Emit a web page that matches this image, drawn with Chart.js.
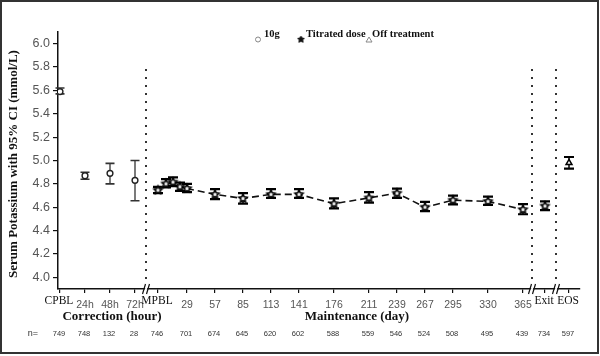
<!DOCTYPE html>
<html><head><meta charset="utf-8">
<script src="https://cdn.jsdelivr.net/npm/chart.js@4"></script>
<style>html,body{margin:0;padding:0;background:#fff}#wrap{width:600px;height:356px;position:relative}</style>
</head><body><div id="wrap"><canvas id="c" width="600" height="356"></canvas></div>
<script>
// ---- data ----
const corrLabels = ['CPBL','24h','48h','72h'];
const corrHours  = [0, 24, 48, 72];
const corrMean   = [5.59, 4.87, 4.89, 4.83];
const corrLow    = [5.57, 4.84, 4.80, 4.655];
const corrHigh   = [5.62, 4.90, 4.975, 5.00];
const corrN      = [749, 748, 132, 28];

const maintDays  = [0, 8, 15, 22, 29, 57, 85, 113, 141, 176, 211, 239, 267, 295, 330, 365];
const maintMean  = [4.746, 4.80, 4.815, 4.775, 4.76, 4.71, 4.675, 4.71, 4.71, 4.63, 4.68, 4.72, 4.60, 4.66, 4.65, 4.58];
const maintLow   = [4.72, 4.77, 4.78, 4.74, 4.73, 4.67, 4.63, 4.68, 4.68, 4.59, 4.64, 4.68, 4.567, 4.624, 4.62, 4.54];
const maintHigh  = [4.775, 4.84, 4.855, 4.81, 4.80, 4.755, 4.72, 4.755, 4.755, 4.675, 4.73, 4.76, 4.645, 4.70, 4.69, 4.626];
const maintTickDays   = [0, 29, 57, 85, 113, 141, 176, 211, 239, 267, 295, 330, 365];
const maintTickLabels = ['MPBL','29','57','85','113','141','176','211','239','267','295','330','365'];
const maintN          = [746, 701, 674, 645, 620, 602, 588, 559, 546, 524, 508, 495, 439];

const exitLabel = 'Exit'; const exitMean = 4.61; const exitLow = 4.575; const exitHigh = 4.65; const exitN = 734;
const eosLabel  = 'EOS';  const eosMean  = 4.98; const eosLow  = 4.93;  const eosHigh  = 5.03; const eosN  = 597;

const yTicks = [4.0, 4.2, 4.4, 4.6, 4.8, 5.0, 5.2, 5.4, 5.6, 5.8, 6.0];
const legendItems = ['10g', 'Titrated dose', 'Off treatment'];

// ---- layout mapping of segmented x axis (axis units ~ days) ----
const corrPos = h => -98 + h * 25 / 24;
const exitPos = 387, eosPos = 411;
const breaks = [-12, 374, 398];

function makeStar(r, fill, stroke, lw) {
  const s = Math.ceil(r * 2 + 4), c = document.createElement('canvas');
  c.width = s; c.height = s;
  const g = c.getContext('2d');
  g.beginPath();
  for (let i = 0; i < 10; i++) {
    const a = -Math.PI / 2 + i * Math.PI / 5, rr = i % 2 ? r * 0.5 : r;
    const x = s / 2 + rr * Math.cos(a), y = s / 2 + rr * Math.sin(a);
    i ? g.lineTo(x, y) : g.moveTo(x, y);
  }
  g.closePath(); g.fillStyle = fill; g.fill();
  g.lineWidth = lw; g.strokeStyle = stroke; g.stroke();
  return c;
}
const starImg = makeStar(4.2, '#fff', '#000', 1.6);
const exitStar = makeStar(4.2, '#fff', '#000', 1.6);

const corrData = corrHours.map((h, i) => ({x: corrPos(h), y: corrMean[i]}));
const maintData = maintDays.map((d, i) => ({x: d, y: maintMean[i]}));

const tickPos = [...corrHours.map(corrPos), ...maintTickDays, exitPos, eosPos];
const tickLab = [...corrLabels, ...maintTickLabels, exitLabel, eosLabel];
const tickN   = [...corrN, ...maintN, exitN, eosN];
const serifLabels = ['CPBL', 'MPBL', 'Exit', 'EOS'];

const errorBars = {
  id: 'errorBars',
  beforeDatasetsDraw(chart) {
    const g = chart.ctx, xs = chart.scales.x, ys = chart.scales.y;
    const bar = (xv, lo, hi, capW, capLw, lw, col) => {
      const x = xs.getPixelForValue(xv), y1 = ys.getPixelForValue(lo), y2 = ys.getPixelForValue(hi);
      g.strokeStyle = col; g.lineWidth = lw;
      g.beginPath(); g.moveTo(x, y1); g.lineTo(x, y2); g.stroke();
      g.lineWidth = capLw;
      g.beginPath(); g.moveTo(x - capW / 2, y1); g.lineTo(x + capW / 2, y1);
      g.moveTo(x - capW / 2, y2); g.lineTo(x + capW / 2, y2); g.stroke();
    };
    g.save();
    corrHours.forEach((h, i) => bar(corrPos(h), corrLow[i], corrHigh[i], 9, 1.6, 1.3, '#333'));
    maintDays.forEach((d, i) => bar(d, maintLow[i], maintHigh[i], 10, 2.2, 1.5, '#000'));
    bar(exitPos, exitLow, exitHigh, 10, 2.2, 1.5, '#000');
    bar(eosPos, eosLow, eosHigh, 10, 2.2, 1.5, '#000');
    g.restore();
  }
};

const decor = {
  id: 'decor',
  beforeDraw(chart) {
    const g = chart.ctx;
    g.save(); g.fillStyle = '#fff'; g.fillRect(0, 0, 600, 356);
    g.strokeStyle = '#333'; g.lineWidth = 2; g.strokeRect(1, 1, 597, 352);
    g.restore();
  },
  afterDraw(chart) {
    const g = chart.ctx, xs = chart.scales.x, ys = chart.scales.y, ca = chart.chartArea;
    g.save();
    // dotted vertical separators
    g.fillStyle = '#333';
    breaks.forEach(b => {
      const x = Math.round(xs.getPixelForValue(b));
      for (let y = 69; y < ca.bottom - 4; y += 8) g.fillRect(x - 1, y, 2, 2);
    });
    // axis breaks
    breaks.forEach((b, k) => {
      const x = xs.getPixelForValue(b), y = ca.bottom;
      g.fillStyle = '#fff';
      g.beginPath(); g.moveTo(x - 3, y + 5); g.lineTo(x + 1, y - 5); g.lineTo(x + 3, y - 5); g.lineTo(x - 1, y + 5); g.closePath(); g.fill();
      g.strokeStyle = '#111'; g.lineWidth = 1.2;
      g.beginPath();
      g.moveTo(x - 3.5, y + 5); g.lineTo(x - 0.5, y - 5);
      g.moveTo(x + 0.5, y + 5); g.lineTo(x + 3.5, y - 5);
      g.stroke();
    });
    // x tick labels
    g.textAlign = 'center'; g.textBaseline = 'middle';
    tickPos.forEach((p, i) => {
      const x = xs.getPixelForValue(p), lab = tickLab[i];
      if (serifLabels.includes(lab)) {
        g.font = '11.5px "Liberation Serif", serif'; g.fillStyle = '#111';
        g.fillText(lab, x - 1, 301);
      } else {
        g.font = '10.5px "Liberation Sans", Arial, sans-serif'; g.fillStyle = '#555';
        g.fillText(lab, x, 305.5);
      }
      g.font = '7.5px "Liberation Sans", Arial, sans-serif'; g.fillStyle = '#333';
      g.fillText(String(tickN[i]), x - 1, 334);
    });
    g.font = '9px "Liberation Sans", Arial, sans-serif'; g.fillStyle = '#333';
    g.fillText('n=', 33, 334);
    // axis titles
    g.font = 'bold 13px "Liberation Serif", serif'; g.fillStyle = '#111';
    g.fillText('Correction (hour)', 112, 317);
    g.fillText('Maintenance (day)', 357, 317);
    g.save(); g.translate(14, 164); g.rotate(-Math.PI / 2);
    g.fillText('Serum Potassium with 95% CI (mmol/L)', 0, 0);
    g.restore();
    // legend
    g.textAlign = 'left'; g.textBaseline = 'middle';
    g.font = 'bold 10.5px "Liberation Serif", serif'; g.fillStyle = '#111';
    g.fillText(legendItems[0], 264, 34);
    g.fillText(legendItems[1], 306, 34);
    g.fillText(legendItems[2], 372, 34);
    g.strokeStyle = '#888'; g.lineWidth = 1;
    g.beginPath(); g.arc(258, 39.5, 2.5, 0, Math.PI * 2); g.stroke();
    g.drawImage(makeStar(3.5, '#111', '#111', 1), 301 - 5.5, 39.5 - 5.5);
    g.beginPath(); g.moveTo(369, 37); g.lineTo(372, 42); g.lineTo(366, 42); g.closePath(); g.stroke();
    g.restore();
  }
};

new Chart(document.getElementById('c'), {
  type: 'scatter',
  data: {
    datasets: [
      { label: 'maint', data: maintData, showLine: true, borderColor: '#111', borderWidth: 1.6, borderDash: [7, 4],
        pointStyle: starImg, pointRadius: 4, pointHoverRadius: 4 },
      { label: 'corr', data: corrData, showLine: false, pointStyle: 'circle', pointRadius: 2.9,
        pointBackgroundColor: '#fff', pointBorderColor: '#222', pointBorderWidth: 1.4 },
      { label: 'exit', data: [{x: exitPos, y: exitMean}], pointStyle: exitStar, pointRadius: 4 },
      { label: 'eos', data: [{x: eosPos, y: eosMean}], pointStyle: 'triangle', pointRadius: 3.4,
        pointBackgroundColor: '#fff', pointBorderColor: '#000', pointBorderWidth: 1.5 }
    ]
  },
  options: {
    responsive: false, animation: false, devicePixelRatio: 1,
    layout: { padding: { left: 0, top: 32, right: 20, bottom: 63 } },
    plugins: { legend: { display: false }, tooltip: { enabled: false } },
    scales: {
      x: {
        type: 'linear', min: -100, max: 422,
        afterBuildTicks: s => { s.ticks = tickPos.map(v => ({value: v})); },
        afterFit: s => { s.height = 4; },
        ticks: { display: false },
        grid: { drawOnChartArea: false, tickLength: 4, color: '#111', lineWidth: 1.2 },
        border: { color: '#111', width: 1.5 }
      },
      y: {
        min: 3.9, max: 6.1,
        afterBuildTicks: s => { s.ticks = yTicks.map(v => ({value: v})); },
        afterFit: s => { s.width = 58; },
        ticks: { callback: v => v.toFixed(1), color: '#555', padding: 3,
                 font: { family: '"Liberation Sans", Arial, sans-serif', size: 12.5 } },
        grid: { drawOnChartArea: false, tickLength: 5, color: '#111', lineWidth: 1.2 },
        border: { color: '#111', width: 1.5 }
      }
    }
  },
  plugins: [errorBars, decor]
});
</script></body></html>
